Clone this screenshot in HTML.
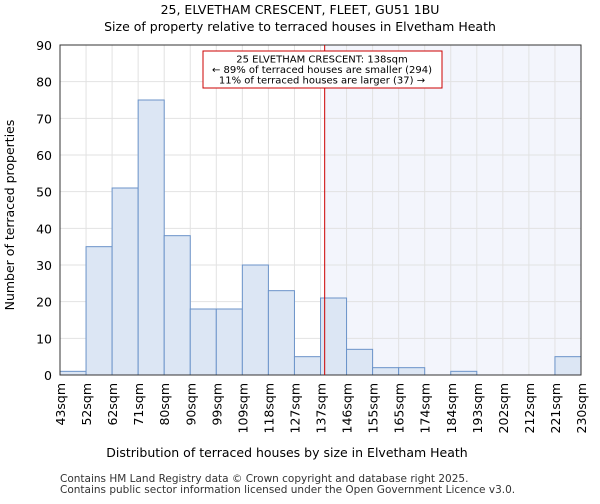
<!DOCTYPE html>
<html><head><meta charset="utf-8"><style>
body{margin:0;background:#fff;font-family:"DejaVu Sans","Liberation Sans",sans-serif}
svg text{font-family:"DejaVu Sans","Liberation Sans",sans-serif}
</style></head><body>
<svg id="chart" width="600" height="500">
<text x="300" y="14" text-anchor="middle" font-size="12.5">25, ELVETHAM CRESCENT, FLEET, GU51 1BU</text>
<text x="300" y="31" text-anchor="middle" font-size="12.5">Size of property relative to terraced houses in Elvetham Heath</text>
<g id="plot"></g>
<text x="287" y="457" text-anchor="middle" font-size="12.5">Distribution of terraced houses by size in Elvetham Heath</text>
<text transform="translate(14,215) rotate(-90)" text-anchor="middle" font-size="12.5">Number of terraced properties</text>
<text x="60" y="482" font-size="10.5" fill="#333">Contains HM Land Registry data © Crown copyright and database right 2025.</text>
<text x="60" y="493" font-size="10.5" fill="#333">Contains public sector information licensed under the Open Government Licence v3.0.</text>
</svg>
<script>
const categories=["43sqm","52sqm","62sqm","71sqm","80sqm","90sqm","99sqm","109sqm","118sqm","127sqm","137sqm","146sqm","155sqm","165sqm","174sqm","184sqm","193sqm","202sqm","212sqm","221sqm","230sqm"];
const counts=[1,35,51,75,38,18,18,30,23,5,21,7,2,2,0,1,0,0,0,5];
const yTicks=[0,10,20,30,40,50,60,70,80,90];
const binStart=43, binWidth=9.35, propertySize=138;
const L=60,R=581,T=45,B=375,yMax=90;
const bw=(R-L)/counts.length;
const x=i=>L+i*bw;
const xv=v=>L+(v-binStart)/binWidth*bw;
const y=v=>B-v/yMax*(B-T);
const ns="http://www.w3.org/2000/svg";
const g=document.getElementById('plot');
function mk(t,a){const e=document.createElementNS(ns,t);for(const k in a)e.setAttribute(k,a[k]);g.appendChild(e);return e;}
let e=mk('rect',{x:xv(propertySize),y:T,width:R-xv(propertySize),height:B-T,fill:'#f3f5fc'});


yTicks.forEach(v=>{
 let l=mk('line',{x1:L,x2:R,y1:y(v),y2:y(v),stroke:'#e2e2e2'});
 
 
 let t=mk('text',{x:L-8,y:y(v)+5,'text-anchor':'end','font-size':12.5});
 t.textContent=v;
 
 
});
categories.forEach((c,i)=>{
 let l=mk('line',{x1:x(i),x2:x(i),y1:T,y2:B,stroke:'#e2e2e2'});
 
 
 let t=mk('text',{transform:`translate(${x(i)+5},${B+8}) rotate(-90)`,'text-anchor':'end','font-size':12.5});
 t.textContent=c;
 
 
});
counts.forEach((v,i)=>{
 if(v<=0)return;
 let r=mk('rect',{x:x(i),y:y(v),width:bw,height:B-y(v),fill:'#dce6f4',stroke:'#6b93c9','stroke-width':1});
 
 
});
let ax=mk('rect',{x:L,y:T,width:R-L,height:B-T,fill:'none',stroke:'#333'});


let m=mk('line',{x1:xv(propertySize),x2:xv(propertySize),y1:T,y2:B,stroke:'#cc0000','stroke-width':1});


let bx=mk('rect',{x:203,y:51,width:239,height:37,fill:'#fff',stroke:'#cc0000'});


["25 ELVETHAM CRESCENT: 138sqm","← 89% of terraced houses are smaller (294)","11% of terraced houses are larger (37) →"].forEach((s,i)=>{
 let t=mk('text',{x:322,y:62.5+i*10.5,'text-anchor':'middle','font-size':10});
 t.textContent=s;
 
 
});
</script>
</body></html>
